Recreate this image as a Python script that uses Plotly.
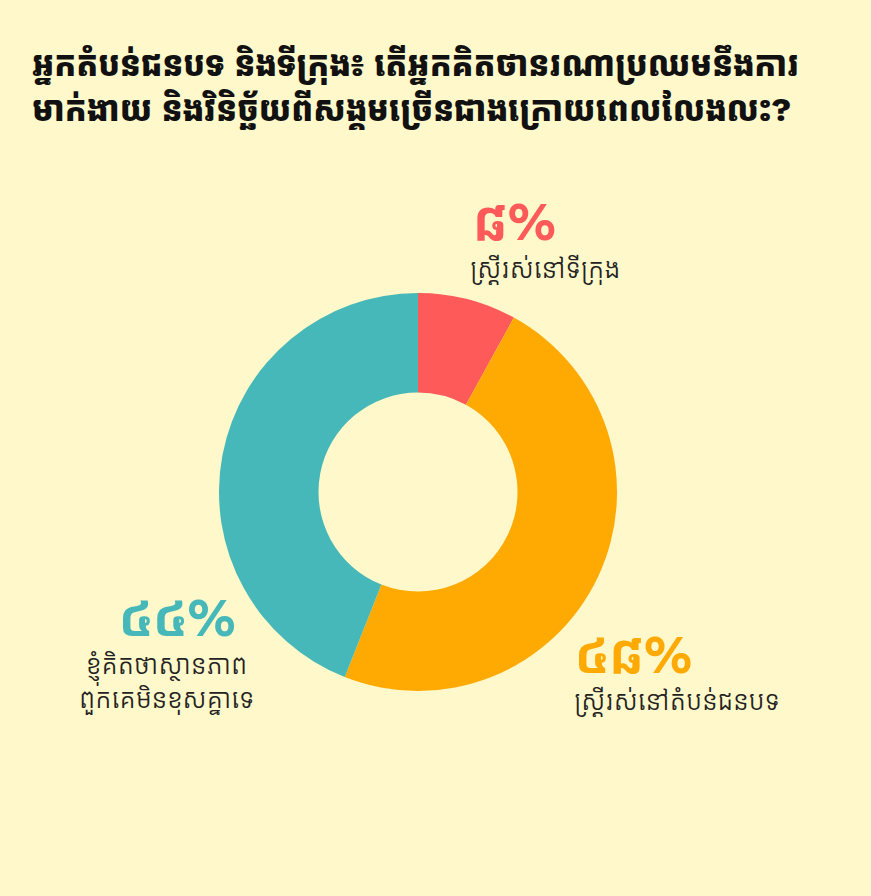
import plotly.graph_objects as go

W, H = 871, 896

categories = ["ស្ត្រីរស់នៅទីក្រុង", "ស្ត្រីរស់នៅតំបន់ជនបទ", "ខ្ញុំគិតថាស្ថានភាព<br>ពួកគេមិនខុសគ្នាទេ"]
values = [8, 48, 44]
pct_labels = ["៨%", "៤៨%", "៤៤%"]
colors = ["#FF5A5A", "#FFA903", "#47B8B9"]

title_lines = ["អ្នកតំបន់ជនបទ និងទីក្រុង៖ តើអ្នកគិតថានរណាប្រឈមនឹងការ",
               "មាក់ងាយ និងវិនិច្ឆ័យពីសង្គមច្រើនជាងក្រោយពេលលែងលះ?"]

BG = "#FEF8CA"
FONT = "Kantumruy Pro, Kantumruy, Noto Sans Khmer, Khmer OS, Noto Sans, sans-serif"

cx, cy, R = 418, 492, 199

fig = go.Figure(go.Pie(
    values=values,
    labels=categories,
    marker=dict(colors=colors, line=dict(width=0)),
    hole=0.5,
    sort=False,
    direction="clockwise",
    rotation=0,
    textinfo="none",
    hoverinfo="none",
    showlegend=False,
    domain=dict(x=[(cx - R) / W, (cx + R) / W], y=[1 - (cy + R) / H, 1 - (cy - R) / H]),
))

def px(x):
    return x / W

def py(y):
    return 1 - y / H

ann = []
ann.append(dict(text="<br>".join(title_lines), x=px(30), y=py(42), xanchor="left", yanchor="top",
                align="left", showarrow=False,
                font=dict(family=FONT, size=34, color="#111111", weight="bold")))

pos = [
    dict(px_=(471, 222, "left"), lb=(468, 269, "left")),
    dict(px_=(573, 655, "left"), lb=(572, 701, "left")),
    dict(px_=(177, 618, "center"), lb=(166, 682, "center")),
]
for i in range(3):
    x0, y0, a0 = pos[i]["px_"]
    ann.append(dict(text=pct_labels[i], x=px(x0), y=py(y0), xanchor=a0, yanchor="middle",
                    showarrow=False, font=dict(family=FONT, size=54, color=colors[i], weight=600)))
    x1, y1, a1 = pos[i]["lb"]
    ann.append(dict(text=categories[i], x=px(x1), y=py(y1), xanchor=a1, yanchor="middle",
                    align="center", showarrow=False,
                    font=dict(family=FONT, size=26, color="#222222")))

fig.update_layout(
    width=W, height=H,
    margin=dict(l=0, r=0, t=0, b=0),
    paper_bgcolor=BG, plot_bgcolor=BG,
    annotations=ann,
)

fig.write_html("out.html", config={"displayModeBar": False},
               post_script="document.body.style.margin='0';document.body.style.overflow='hidden';document.body.style.background='%s';" % BG)
